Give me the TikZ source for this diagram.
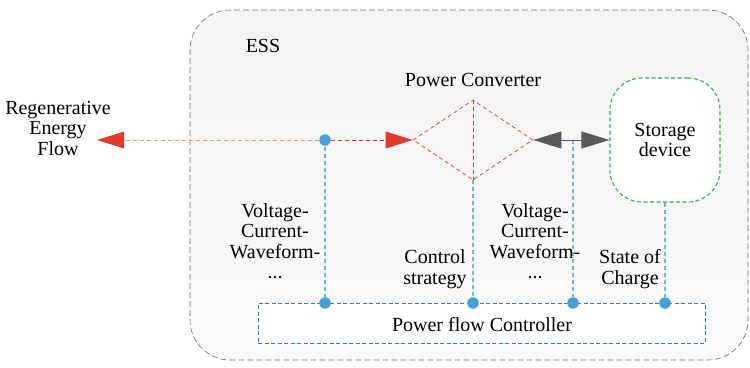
\documentclass[tikz,border=0pt]{standalone}
\usepackage{fontspec}
\setmainfont{Liberation Serif}
\usetikzlibrary{shapes.geometric,arrows.meta}
\definecolor{essgray}{HTML}{6A6A6A}
\definecolor{arrred}{HTML}{E03A2C}
\definecolor{ltblue}{HTML}{6CB8E2}
\definecolor{dotblue}{HTML}{4A9ED6}
\definecolor{boxblue}{HTML}{2F78C2}
\definecolor{stgreen}{HTML}{2DB34A}
\definecolor{arrgray}{HTML}{5A5A5A}
\tikzset{
  lbl/.style={font=\fontsize{20}{20.5}\selectfont, align=center, inner sep=0pt},
  redline/.style={draw=arrred, dashed, dash pattern=on 4pt off 3pt, line width=0.7pt},
  blueline/.style={draw=ltblue, dashed, dash pattern=on 4pt off 3pt, line width=1.1pt},
  dotn/.style={circle, fill=dotblue, minimum size=11.5pt, inner sep=0pt},
  graytip/.style={-{Triangle[length=28pt,width=17pt]}},
}
\begin{document}
\begin{tikzpicture}[x=1pt,y=-1pt]
\useasboundingbox (0,0) rectangle (750,367);
% ESS container
\node[draw=essgray, dashed, dash pattern=on 6pt off 3pt, line width=0.6pt, rounded corners=40pt,
  top color=gray!9, bottom color=gray!4, minimum width=558pt, minimum height=350pt, inner sep=0pt] (ess) at (469,185) {};
\node[lbl] (esst) at (263,46) {ESS};
% Regenerative text
\node[lbl] (regen) at (58,128) {Regenerative\\Energy\\Flow};
% power converter
\node[diamond, redline, minimum width=120pt, minimum height=80pt, inner sep=0pt] (conv) at (473,140) {};
\node[lbl] (convt) at (473,80) {Power Converter};
% storage device
\node[draw=stgreen, dashed, dash pattern=on 4pt off 2.5pt, line width=1.1pt, rounded corners=32pt,
  fill=white, minimum width=110pt, minimum height=124pt, inner sep=0pt, lbl] (store) at (665,140) {Storage\\device};
% controller
\node[draw=boxblue, dashed, dash pattern=on 4pt off 2.5pt, line width=0.9pt, fill=white,
  minimum width=447pt, minimum height=40pt, inner sep=0pt] (ctrl) at (481.5,323) {};
\node[lbl] (ctrlt) at (482,325) {Power flow Controller};
% coordinates
\coordinate (tipL) at (97,140);
\coordinate (mid) at (573,140);
% vertical blue lines
\draw[blueline] (325,140) -- (325,303);
\node[dotn] (d0) at (325,140) {};
\node[dotn] (d1) at (325,303) {};
\node[dotn] (d2) at (473,303) {};
\node[dotn] (d3) at (573,303) {};
\node[dotn] (d4) at (665,303) {};
\draw[redline] (conv.north) -- (conv.south);
\draw[blueline] (conv.south) -- (d2);
\draw[blueline] (mid) -- (d3);
\draw[blueline] (store.south) -- (d4);
% red arrows
\draw[redline, draw=arrred!55] (d0) -- ([xshift=27pt]tipL);
\path[fill=arrred] (tipL) -- ++(27pt,-8.5pt) -- ++(0,17pt) -- cycle;
\draw[redline] (d0) -- ([xshift=-27pt]conv.west);
\path[fill=arrred] (conv.west) -- ++(-27pt,-8.5pt) -- ++(0,17pt) -- cycle;
% gray arrows
\draw[arrgray, line width=0.6pt, graytip] (mid) -- (conv.east);
\draw[arrgray, line width=0.6pt, graytip] (mid) -- (store.west);
% labels
\node[lbl] (vcw1) at (275,241) {Voltage-\\Current-\\Waveform-\\...};
\node[lbl] (vcw2) at (535,241) {Voltage-\\Current-\\Waveform-\\...};
\node[lbl] (cs) at (435,269) {Control\\strategy};
\node[lbl] (soc) at (630,269) {State of\\Charge};
\end{tikzpicture}
\end{document}
